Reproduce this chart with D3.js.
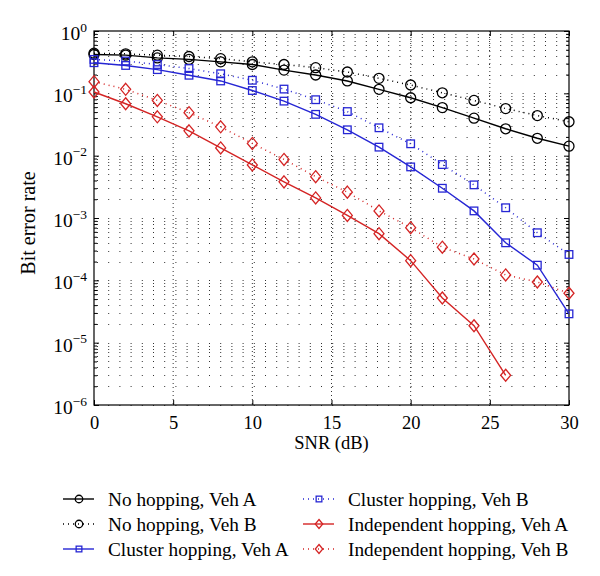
<!DOCTYPE html>
<html>
<head>
<meta charset="utf-8">
<script src="https://cdn.jsdelivr.net/npm/d3@7"></script>
<style>
body{margin:0;background:#fff;}
text{font-family:"Liberation Serif","DejaVu Serif",serif;fill:#000;}
</style>
</head>
<body>
<svg id="chart" width="600" height="576"></svg>
<script>
// SNR points (dB)
var snr = [0,2,4,6,8,10,12,14,16,18,20,22,24,26,28,30];

// bit error rate per scheme
var noHopA   = [0.42,0.41,0.37,0.35,0.32,0.29,0.236,0.197,0.158,0.116,0.085,0.059,0.040,0.027,0.019,0.0142];
var noHopB   = [0.44,0.43,0.41,0.39,0.36,0.32,0.29,0.258,0.22,0.174,0.136,0.102,0.077,0.057,0.044,0.035];
var clusterA = [0.31,0.28,0.24,0.195,0.158,0.111,0.075,0.046,0.026,0.0137,0.0066,0.003,0.0013,0.0004,0.000175,0.000029];
var clusterB = [0.35,0.33,0.29,0.25,0.206,0.162,0.117,0.079,0.051,0.028,0.0155,0.0072,0.0034,0.00146,0.00058,0.00026];
var indepA   = [0.105,0.068,0.042,0.025,0.0133,0.0071,0.0038,0.0021,0.0011,0.00056,0.000207,0.000052,0.0000187,0.000003];
var indepB   = [0.154,0.116,0.077,0.049,0.029,0.0157,0.0087,0.0046,0.0026,0.0013,0.0007,0.00034,0.00022,0.000122,0.000094,0.000062];

var names = ["No hopping, Veh A","No hopping, Veh B","Cluster hopping, Veh A",
             "Cluster hopping, Veh B","Independent hopping, Veh A","Independent hopping, Veh B"];

var xTicks = [0,5,10,15,20,25,30];
var yDecades = [1e-6,1e-5,1e-4,1e-3,1e-2,1e-1,1];
var yExps = ["−6","−5","−4","−3","−2","−1","0"];

var cBlack = "#000", cBlue = "#2626d4", cRed = "#d42424";

var series = [
	{vals: noHopA,   color: cBlack, dash: null,    marker: "circle"},
	{vals: noHopB,   color: cBlack, dash: "1,4",   marker: "circle"},
	{vals: clusterA, color: cBlue,  dash: null,    marker: "square"},
	{vals: clusterB, color: cBlue,  dash: "1,4",   marker: "square"},
	{vals: indepA,   color: cRed,   dash: null,    marker: "diamond"},
	{vals: indepB,   color: cRed,   dash: "1,4",   marker: "diamond"}
];

var plotL = 94, plotR = 569, plotT = 31, plotB = 405;

var svg = d3.select("#chart");
var x = d3.scaleLinear().domain([0,30]).range([plotL,plotR]);
var y = d3.scaleLog().domain([1e-6,1]).range([plotB,plotT]);

// grid
var minorVals = [];
for(var e=-6; e<0; e++){
	for(var k=1; k<10; k++){
		minorVals.push(k*Math.pow(10,e));
	}
}
var minorOnly = [];
for(var e2=-6; e2<0; e2++){
	for(var k2=2; k2<10; k2++){
		minorOnly.push(k2*Math.pow(10,e2));
	}
}

svg.append("g").selectAll("line")
	.data(minorVals)
	.enter().append("line")
	.attr("x1", plotL+3).attr("x2", plotR)
	.attr("y1", function(d){ return Math.round(y(d))+0.5; })
	.attr("y2", function(d){ return Math.round(y(d))+0.5; })
	.attr("stroke", "#333")
	.attr("stroke-width", 1)
	.attr("stroke-dasharray", "1,10.2");

svg.append("g").selectAll("line")
	.data(xTicks.slice(1,-1))
	.enter().append("line")
	.attr("x1", function(d){ return x(d); })
	.attr("x2", function(d){ return x(d); })
	.attr("y1", plotT).attr("y2", plotB)
	.attr("stroke", "#333")
	.attr("stroke-width", 1)
	.attr("stroke-dasharray", "1,3");

// axes
var xAxis = d3.axisBottom(x).tickValues(xTicks).tickSize(-5).tickFormat(d3.format("d"));
var gx = svg.append("g").attr("transform", "translate(0," + plotB + ")").call(xAxis);
gx.select(".domain").remove();
gx.selectAll("text").attr("y", 24).attr("dy", 0).style("font-size", "18.5px");

var gxTop = svg.append("g").attr("transform", "translate(0," + plotT + ")")
	.call(d3.axisTop(x).tickValues(xTicks).tickSize(-5).tickFormat(""));
gxTop.select(".domain").remove();

var yAxis = d3.axisLeft(y).tickValues(yDecades).tickSize(-5).tickFormat("");
var gy = svg.append("g").attr("transform", "translate(" + plotL + ",0)").call(yAxis);
gy.select(".domain").remove();
gy.selectAll(".tick").each(function(d, i){
	var t = d3.select(this).select("text")
		.attr("x", -7).attr("y", 8.5).attr("dy", 0)
		.attr("text-anchor", "end")
		.style("font-size", "19.5px");
	t.append("tspan").text("10");
	t.append("tspan").attr("dy", -8.5).style("font-size", "13.5px").text(yExps[i]);
});
svg.append("g").attr("transform", "translate(" + plotL + ",0)")
	.call(d3.axisLeft(y).tickValues(minorOnly).tickSize(-3).tickFormat(""))
	.select(".domain").remove();
svg.append("g").attr("transform", "translate(" + plotR + ",0)")
	.call(d3.axisRight(y).tickValues(yDecades).tickSize(-5).tickFormat(""))
	.select(".domain").remove();
svg.append("g").attr("transform", "translate(" + plotR + ",0)")
	.call(d3.axisRight(y).tickValues(minorOnly).tickSize(-3).tickFormat(""))
	.select(".domain").remove();

svg.selectAll(".tick line").attr("stroke", "#000").attr("stroke-width", 1);

svg.append("rect")
	.attr("x", plotL).attr("y", plotT)
	.attr("width", plotR-plotL).attr("height", plotB-plotT)
	.attr("fill", "none").attr("stroke", "#000").attr("stroke-width", 1.2);

// markers
function drawMarker(g, type, cx, cy, color, sc){
	sc = sc || 1;
	if(type === "circle"){
		g.append("circle").attr("cx", cx).attr("cy", cy).attr("r", 5*sc)
			.attr("fill", "none").attr("stroke", color).attr("stroke-width", 1.3);
	}
	if(type === "square"){
		var h = 3.8*sc;
		g.append("rect").attr("x", cx-h).attr("y", cy-h).attr("width", 2*h).attr("height", 2*h)
			.attr("fill", "none").attr("stroke", color).attr("stroke-width", 1.3);
	}
	if(type === "diamond"){
		var w = 5*sc, hh = 6*sc;
		g.append("path").attr("d", "M" + cx + "," + (cy-hh) + "L" + (cx+w) + "," + cy + "L" + cx + "," + (cy+hh) + "L" + (cx-w) + "," + cy + "Z")
			.attr("fill", "none").attr("stroke", color).attr("stroke-width", 1.3);
	}
}

var line = d3.line()
	.x(function(d){ return x(d[0]); })
	.y(function(d){ return y(d[1]); });

series.forEach(function(s){
	var pts = s.vals.map(function(v, i){ return [snr[i], v]; });
	var g = svg.append("g");
	g.append("path")
		.datum(pts)
		.attr("d", line)
		.attr("fill", "none")
		.attr("stroke", s.color)
		.attr("stroke-width", s.dash ? 1.5 : 1.4)
		.attr("stroke-dasharray", s.dash);
	pts.forEach(function(p){
		drawMarker(g, s.marker, x(p[0]), y(p[1]), s.color);
	});
});

// axis titles
svg.append("text")
	.attr("x", (plotL+plotR)/2).attr("y", 449)
	.attr("text-anchor", "middle")
	.style("font-size", "18.5px")
	.text("SNR (dB)");

svg.append("text")
	.attr("transform", "translate(35,223) rotate(-90)")
	.attr("text-anchor", "middle")
	.style("font-size", "20px")
	.text("Bit error rate");

// legend
var legX = [63, 303];
var legY = [499, 524, 549];
series.forEach(function(s, i){
	var col = Math.floor(i/3), row = i%3;
	var x0 = legX[col], yc = legY[row];
	var g = svg.append("g");
	g.append("line")
		.attr("x1", x0).attr("x2", x0+31)
		.attr("y1", yc).attr("y2", yc)
		.attr("stroke", s.color)
		.attr("stroke-width", s.dash ? 1.5 : 1.4)
		.attr("stroke-dasharray", s.dash);
	drawMarker(g, s.marker, x0+16, yc, s.color, 0.75);
	g.append("text")
		.attr("x", x0+45).attr("y", yc+6.5)
		.style("font-size", "19.3px")
		.text(names[i]);
});
</script>
</body>
</html>
